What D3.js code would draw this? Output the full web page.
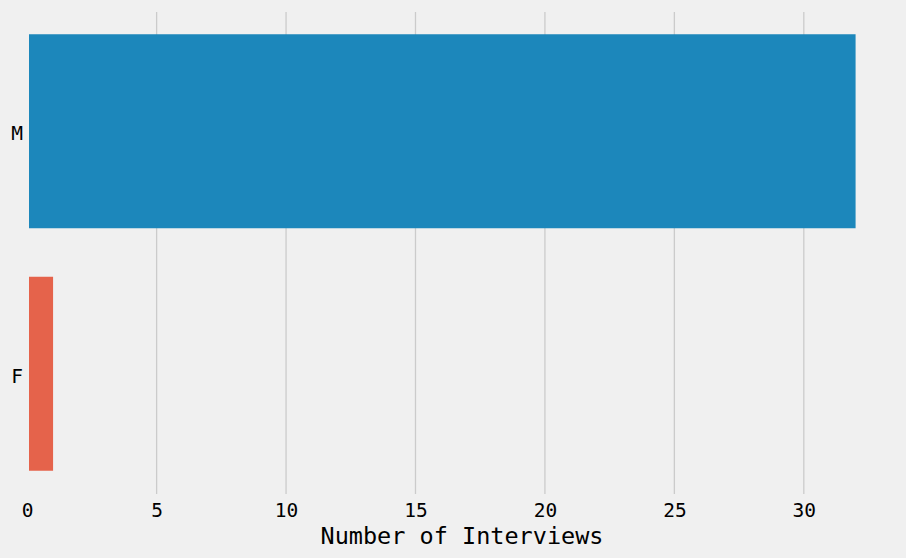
<!DOCTYPE html>
<html>
<head>
<meta charset="utf-8">
<script src="https://cdn.jsdelivr.net/npm/d3@7"></script>
<style>
  html, body { margin: 0; padding: 0; background: #f0f0f0; }
  svg { display: block; }
</style>
</head>
<body>
<svg id="chart" width="906" height="558"></svg>
<script>
const categories = ["M", "F"];
const values = [32, 1];
const colors = ["#1c87bb", "#e5634b"];
const xTicks = [0, 5, 10, 15, 20, 25, 30];
const xLabel = "Number of Interviews";
const xView = [0.07, 33.6];

const W = 906, H = 558;
const plot = { left: 29, right: 897, top: 10, bottom: 495 };
const svg = d3.select("#chart");
svg.append("rect").attr("width", W).attr("height", H).attr("fill", "#f0f0f0");

const x = d3.scaleLinear().domain(xView).range([plot.left, plot.right]);
const y = d3.scaleBand().domain(categories).range([plot.top, plot.bottom])
  .paddingInner(0.2).paddingOuter(0.1);

const font = "'DejaVu Sans Mono', monospace";

svg.append("clipPath").attr("id", "clip").append("rect")
  .attr("x", plot.left).attr("y", plot.top)
  .attr("width", plot.right - plot.left).attr("height", plot.bottom - plot.top);

const g = svg.append("g").attr("clip-path", "url(#clip)");

// grid
g.selectAll("line.grid").data(xTicks).join("line")
  .attr("class", "grid")
  .attr("x1", d => x(d)).attr("x2", d => x(d))
  .attr("y1", plot.top + 2).attr("y2", plot.bottom - 1)
  .attr("stroke", "#cbcbcb").attr("stroke-width", 1.3);

// bars
g.selectAll("rect.bar").data(categories).join("rect")
  .attr("class", "bar")
  .attr("x", x(0))
  .attr("y", d => y(d))
  .attr("width", (d, i) => x(values[i]) - x(0))
  .attr("height", y.bandwidth())
  .attr("fill", (d, i) => colors[i]);

// x tick labels
const xAxis = d3.axisBottom(x).tickValues(xTicks).tickSize(0).tickPadding(0);
const xg = svg.append("g").attr("transform", `translate(0,${plot.bottom})`).call(xAxis);
xg.select(".domain").remove();
xg.selectAll("text")
  .attr("dy", null).attr("y", 21.5)
  .attr("font-family", font).attr("font-size", 19.5).attr("fill", "#000");

// y tick labels
const yAxis = d3.axisLeft(y).tickSize(0).tickPadding(0);
const yg = svg.append("g").attr("transform", `translate(${plot.left - 6},0)`).call(yAxis);
yg.select(".domain").remove();
yg.selectAll("text")
  .attr("dy", "0.45em")
  .attr("font-family", font).attr("font-size", 19.5).attr("fill", "#000");

// axis label
svg.append("text")
  .attr("x", (plot.left + plot.right) / 2 - 1)
  .attr("y", 543.5)
  .attr("text-anchor", "middle")
  .attr("font-family", font).attr("font-size", 23.5).attr("fill", "#000")
  .text(xLabel);
</script>
</body>
</html>
